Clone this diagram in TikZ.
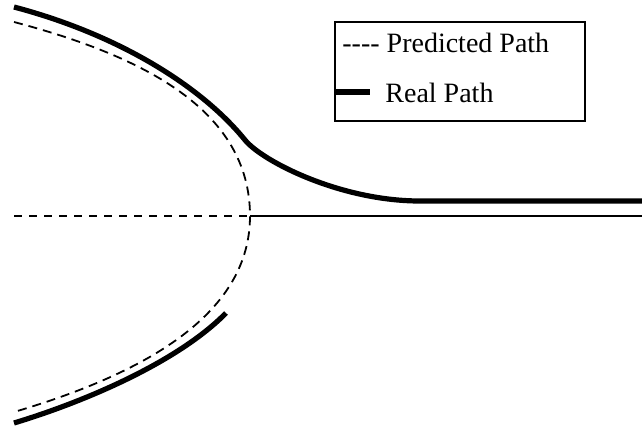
\documentclass[tikz,border=0pt]{standalone}
\usepackage{fontspec}
\setmainfont{Liberation Serif}
\tikzset{
  realpath/.style={line width=2.6pt, line cap=butt},
  predpath/.style={line width=0.9pt, dash pattern=on 4.5pt off 3pt},
  axisdash/.style={line width=1.4pt, dash pattern=on 4pt off 3.5pt},
  legendtext/.style={anchor=base west, inner sep=0pt, font=\fontsize{14}{16}\selectfont}
}
\begin{document}
\begin{tikzpicture}[x=0.5pt, y=-0.5pt]
      \useasboundingbox (0,0) rectangle (642,429);

      % Legend box with thin black border
      \node[draw, line width=0.9pt, minimum width=125pt, minimum height=49.5pt, anchor=north west, inner sep=0pt] (legend) at (334,21) {};

      % Legend entries
      \node[legendtext] (predlabel) at (342,52) {{-}{-}{-}{-} Predicted Path};
      \coordinate (reala) at (334,92);
      \coordinate (realb) at (370,92);
      \draw[line width=2.8pt] (reala) -- (realb);
      \node[legendtext] (reallabel) at (385,102) {Real Path};

      % Axis: dashed up to the turning point, solid after it
      \coordinate (axisstart) at (14,216);
      \coordinate (turn) at (250,216);
      \coordinate (axisend) at (642,216);
      \draw[axisdash] (axisstart) -- (turn);
      \draw[line width=1pt] (turn) -- (axisend);

      % Predicted path (thin dashed curve round the turning point)
      \coordinate (predtop) at (14,22);
      \coordinate (predbot) at (14,412);
      \draw[predpath] (predtop) .. controls (143,56) and (250,110) .. (turn)
                                .. controls (250,312) and (150,372) .. (predbot);

      % Real path, upper branch running out to the right
      \coordinate (realtop) at (14,7);
      \coordinate (bend) at (245,140);
      \coordinate (flat) at (420,201);
      \coordinate (realend) at (642,201);
      \draw[realpath] (realtop) .. controls (120,35) and (202,87) .. (bend)
                                .. controls (262,161) and (340,201) .. (flat) -- (realend);

      % Real path, lower branch
      \coordinate (lowstart) at (14,423);
      \coordinate (lowend) at (226,313);
      \draw[realpath] (lowstart) .. controls (90,400) and (180,360) .. (lowend);
    \end{tikzpicture}
\end{document}
